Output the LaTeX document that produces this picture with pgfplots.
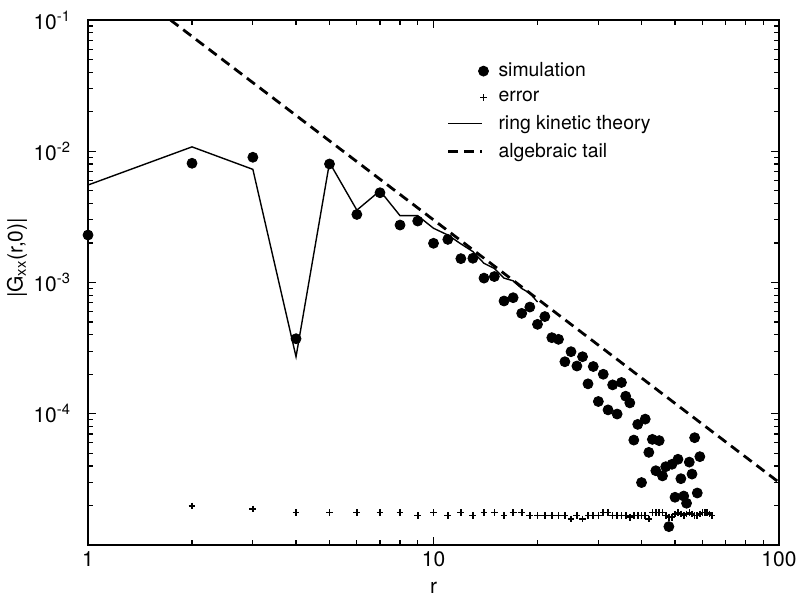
\documentclass[border=0pt]{standalone}
\usepackage{fontspec}
\setmainfont{TeX Gyre Heros}
\usepackage{pgfplots}
\pgfplotsset{compat=1.18}
\pgfplotsset{rightmark legend/.style={legend image code/.code={\draw[##1] plot coordinates {(0.62cm,0cm)};}}}
\begin{document}
\begin{tikzpicture}
\begin{axis}[
  scale only axis,
  width=345.5pt, height=262.5pt,
  xmode=log, ymode=log,
  xmin=1, xmax=100, ymin=1e-5, ymax=1e-1,
  axis line style={line width=0.75pt},
  every tick/.style={black, line width=0.6pt},
  major tick length=4pt, minor tick length=2.5pt,
  xtick={1,10,100}, xticklabels={1,10,100},
  ytick={1e-5,1e-4,1e-3,1e-2,1e-1},
  yticklabels={{},10\textsuperscript{-4},10\textsuperscript{-3},10\textsuperscript{-2},10\textsuperscript{-1}},
  ticklabel style={font=\fontsize{10.5}{12}\selectfont},
  yticklabel style={xshift=-5pt},
  xlabel={r}, ylabel={|G\textsubscript{xx}(r,0)|},
  label style={font=\fontsize{10.5}{12}\selectfont},
  xlabel style={at={(rel axis cs:0.5,-0.082)}, anchor=center},
  ylabel style={at={(rel axis cs:-0.1027,0.5467)}, anchor=center},
  legend cell align=left,
  legend style={draw=none, fill=none, at={(rel axis cs:0.51,0.935)}, anchor=north west,
    font=\fontsize{9.7}{11}\selectfont, row sep=1.5pt, column sep=3pt},
]
\coordinate (bl) at (rel axis cs:-0.1274,-0.0990);
\coordinate (tr) at (rel axis cs:1.0275,1.0381);
% simulation
\addplot[only marks, mark=*, mark size=2.5pt, black, rightmark legend] coordinates {
(1,2.30e-3) (2,8.1e-3) (3,9.0e-3) (4,3.73e-4) (5,8.0e-3) (6,3.3e-3) (7,4.83e-3)
(8,2.74e-3) (9,2.94e-3) (10,1.99e-3) (11,2.13e-3) (12,1.52e-3) (13,1.53e-3)
(14,1.08e-3) (15,1.11e-3) (16,7.23e-4) (17,7.66e-4) (18,5.82e-4) (19,6.5e-4)
(20,4.8e-4) (21,5.5e-4) (22,3.80e-4) (23,3.69e-4) (24,2.49e-4) (25,2.97e-4)
(26,2.31e-4) (27,2.72e-4) (28,1.69e-4) (29,2.29e-4) (30,1.24e-4) (31,2.0e-4)
(32,1.07e-4) (33,1.66e-4) (34,9.95e-5) (35,1.73e-4) (36,1.36e-4) (37,1.21e-4)
(38,6.3e-5) (39,8.3e-5) (40,2.99e-5) (41,9.1e-5) (42,5.08e-5) (43,6.38e-5)
(44,3.68e-5) (45,6.24e-5) (46,3.36e-5) (47,3.95e-5) (48,1.38e-5) (49,4.12e-5)
(50,2.31e-5) (51,4.50e-5) (52,3.20e-5) (53,2.36e-5) (54,2.08e-5) (55,4.28e-5)
(56,3.47e-5) (57,6.57e-5) (58,2.49e-5) (59,4.71e-5)
};
\addlegendentry{simulation}
% error
\addplot[only marks, mark=+, mark size=1.7pt, black, mark options={line width=0.8pt}, rightmark legend] coordinates {
(2,1.98e-5) (3,1.88e-5) (4,1.77e-5) (5,1.77e-5) (6,1.77e-5) (7,1.77e-5) (8,1.77e-5)
(9,1.68e-5) (10,1.77e-5) (11,1.68e-5) (12,1.77e-5) (13,1.68e-5) (14,1.77e-5)
(15,1.77e-5) (16,1.68e-5) (17,1.77e-5) (18,1.77e-5) (19,1.68e-5) (20,1.68e-5)
(21,1.68e-5) (22,1.68e-5) (23,1.68e-5) (24,1.68e-5) (25,1.58e-5) (26,1.68e-5)
(27,1.58e-5) (28,1.68e-5) (29,1.68e-5) (30,1.68e-5) (31,1.77e-5) (32,1.77e-5)
(33,1.68e-5) (34,1.68e-5) (35,1.68e-5) (36,1.68e-5) (37,1.63e-5) (38,1.68e-5)
(39,1.68e-5) (40,1.68e-5) (41,1.68e-5) (42,1.58e-5) (43,1.77e-5) (44,1.77e-5)
(45,1.77e-5) (46,1.77e-5) (47,1.68e-5) (48,1.63e-5) (49,1.63e-5) (50,1.72e-5)
(51,1.77e-5) (52,1.72e-5) (53,1.68e-5) (54,1.72e-5) (55,1.77e-5) (56,1.72e-5)
(57,1.68e-5) (58,1.68e-5) (59,1.72e-5) (60,1.77e-5) (61,1.77e-5) (62,1.77e-5)
(63,1.72e-5) (64,1.68e-5)
};
\addlegendentry{error}
% ring kinetic theory
\addplot[black, line width=0.7pt, mark=none] coordinates {
(1,5.53e-3) (2,1.08e-2) (3,7.28e-3) (4,2.72e-4) (5,8.2e-3) (6,3.56e-3) (7,5.0e-3)
(8,3.23e-3) (9,3.23e-3) (10,2.59e-3) (11,2.30e-3) (12,1.97e-3) (13,1.72e-3)
(14,1.40e-3) (15,1.28e-3) (16,1.08e-3) (17,1.03e-3) (18,9.0e-4) (19,8.3e-4) (20,7.1e-4)
};
\addlegendentry{ring kinetic theory}
% algebraic tail
\addplot[black, line width=1.4pt, dash pattern=on 5pt off 3pt, mark=none] coordinates {
(1.7321,0.1) (100,3.0e-5)
};
\addlegendentry{algebraic tail}
\end{axis}
\pgfresetboundingbox
\path[use as bounding box] (bl) rectangle (tr);
\end{tikzpicture}
\end{document}
